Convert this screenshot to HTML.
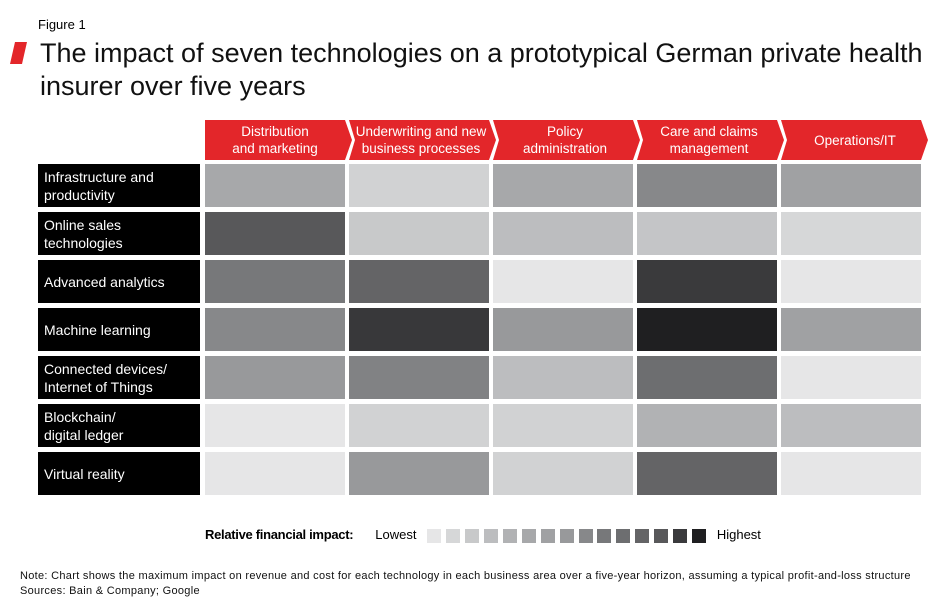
<!DOCTYPE html><html><head><style>
body{margin:0;background:#fff;width:950px;height:615px;overflow:hidden;font-family:"Liberation Sans",sans-serif;position:relative}
.a{position:absolute}
.rl{position:absolute;left:38px;width:162px;height:43px;background:#000;color:#fff;font-size:14px;line-height:18px;display:flex;align-items:center;padding-left:6px;box-sizing:border-box}
.c{position:absolute;width:140px;height:43px}
.h{position:absolute;top:120px;height:40px;width:140px;color:#fff;font-size:13.5px;line-height:17px;text-align:center;display:flex;align-items:center;justify-content:center}
.sq{display:inline-block;width:14px;height:14px;margin-right:4.9px;vertical-align:middle}
</style></head><body>
<div class="a" style="left:38px;top:17px;font-size:13px">Figure 1</div>
<svg class="a" style="left:10px;top:42px" width="18" height="24"><polygon points="5,0 17,0 12,22 0,22" fill="#e3262a"/></svg>
<div class="a" style="left:40px;top:37px;font-size:27px;line-height:33px;color:#111;letter-spacing:0px;white-space:nowrap">The impact of seven technologies on a prototypical German private health<br>insurer over five years</div>
<svg class="a" style="left:0;top:0" width="950" height="170">
<polygon points="205,120 345,120 352,140 345,160 205,160" fill="#e3262a"/>
<polygon points="349,120 489,120 496,140 489,160 349,160 355,140" fill="#e3262a"/>
<polygon points="493,120 633,120 640,140 633,160 493,160 499,140" fill="#e3262a"/>
<polygon points="637,120 777,120 784,140 777,160 637,160 643,140" fill="#e3262a"/>
<polygon points="781,120 921,120 928,140 921,160 781,160 787,140" fill="#e3262a"/>
</svg>
<div class="h" style="left:205px">Distribution<br>and marketing</div>
<div class="h" style="left:351px">Underwriting and new<br>business processes</div>
<div class="h" style="left:495px">Policy<br>administration</div>
<div class="h" style="left:639px">Care and claims<br>management</div>
<div class="h" style="left:785px">Operations/IT</div>
<div id="g"></div>
<div class="a" style="left:205px;top:527px;font-size:13px;width:600px;white-space:nowrap"><b style="letter-spacing:-0.3px">Relative financial impact:</b><span style="margin-left:22px;margin-right:11px">Lowest</span><span id="lg"></span><span style="margin-left:6px">Highest</span></div>
<div class="a" style="left:20px;top:569px;font-size:11px;line-height:15px;color:#111;letter-spacing:0.3px;white-space:nowrap">Note: Chart shows the maximum impact on revenue and cost for each technology in each business area over a five-year horizon, assuming a typical profit-and-loss structure<br>Sources: Bain &amp; Company; Google</div>
<script>
var L=["Infrastructure and<br>productivity","Online sales<br>technologies","Advanced analytics","Machine learning","Connected devices/<br>Internet of Things","Blockchain/<br>digital ledger","Virtual reality"];
var C=[["#a7a8aa","#d1d2d3","#a7a8aa","#87888a","#a0a1a3"],["#58585a","#c8c9ca","#bcbdbf","#c4c5c7","#d6d7d8"],["#77787a","#646466","#e6e6e7","#3a3a3c","#e6e6e7"],["#87888a","#38383a","#98999b","#1f1f21","#a0a1a3"],["#98999b","#818284","#bcbdbf","#6d6e70","#e6e6e7"],["#e6e6e7","#d1d2d3","#d1d2d3","#b1b2b4","#bcbdbf"],["#e6e6e7","#98999b","#d1d2d3","#646466","#e6e6e7"]];
var h="";for(var r=0;r<7;r++){var y=164+r*48;h+='<div class="rl" style="top:'+y+'px">'+L[r]+'</div>';for(var c=0;c<5;c++)h+='<div class="c" style="top:'+y+'px;left:'+(205+c*144)+'px;background:'+C[r][c]+'"></div>';}
document.getElementById("g").innerHTML=h;
var s=["#e6e6e7","#d6d7d8","#c8c9ca","#bcbdbf","#b1b2b4","#a7a8aa","#a0a1a3","#98999b","#87888a","#77787a","#6d6e70","#646466","#58585a","#3a3a3c","#1f1f21"],t="";
s.forEach(function(x){t+='<span class="sq" style="background:'+x+'"></span>'});document.getElementById("lg").innerHTML=t;
</script>
</body></html>
